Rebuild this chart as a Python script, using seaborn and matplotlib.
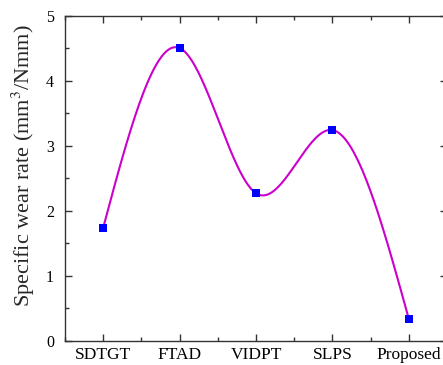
import numpy as np
import pandas as pd
import matplotlib
matplotlib.use("Agg")
import matplotlib.pyplot as plt
from matplotlib.ticker import MultipleLocator
import seaborn as sns

categories = ["SDTGT", "FTAD", "VIDPT", "SLPS", "Proposed"]
wear_rate = [1.74, 4.50, 2.27, 3.24, 0.34]

sns.set_style("ticks")
plt.rcParams['font.family'] = ['Liberation Serif', 'DejaVu Serif']
plt.rcParams['mathtext.fontset'] = 'stix'


def natural_spline(x, y, n=400):
    x = np.asarray(x, float); y = np.asarray(y, float)
    m = len(x); h = np.diff(x)
    A = np.zeros((m, m)); b = np.zeros(m)
    A[0, 0] = A[-1, -1] = 1
    for i in range(1, m - 1):
        A[i, i - 1] = h[i - 1]; A[i, i] = 2 * (h[i - 1] + h[i]); A[i, i + 1] = h[i]
        b[i] = 3 * ((y[i + 1] - y[i]) / h[i] - (y[i] - y[i - 1]) / h[i - 1])
    c = np.linalg.solve(A, b)
    xs = np.linspace(x[0], x[-1], n); ys = np.empty_like(xs)
    for k, xv in enumerate(xs):
        i = min(np.searchsorted(x, xv, side='right') - 1, m - 2)
        dx = xv - x[i]
        bi = (y[i + 1] - y[i]) / h[i] - h[i] * (2 * c[i] + c[i + 1]) / 3
        di = (c[i + 1] - c[i]) / (3 * h[i])
        ys[k] = y[i] + bi * dx + c[i] * dx ** 2 + di * dx ** 3
    return xs, ys

pos = np.arange(len(categories))
xs, ys = natural_spline(pos, wear_rate)
curve = pd.DataFrame({"x": xs, "y": ys})
pts = pd.DataFrame({"x": pos, "y": wear_rate})

fig = plt.figure(figsize=(4.43, 3.65), dpi=100)
ax = fig.add_axes([65 / 443, 1 - 341 / 365, (447 - 65) / 443, (341 - 15.5) / 365])
sns.lineplot(data=curve, x="x", y="y", ax=ax, color="#CC00CC", linewidth=1.5, sort=False)
sns.scatterplot(data=pts, x="x", y="y", ax=ax, marker="s", color="#0000FF", s=30,
                edgecolor="#0000FF", linewidth=0, zorder=5)

ax.set_xlim(-0.5, 4.5)
ax.set_ylim(0, 5)
ax.set_xticks(pos)
ax.set_xticklabels(categories)
ax.xaxis.set_minor_locator(MultipleLocator(0.5))
ax.yaxis.set_major_locator(MultipleLocator(1))
ax.yaxis.set_minor_locator(MultipleLocator(0.5))
ax.set_xlabel("")
ax.set_ylabel("Specific wear rate (mm$^3$/Nmm)", fontsize=16)
ax.yaxis.set_label_coords(-0.074, 0.54)
for s in ax.spines.values():
    s.set_visible(True); s.set_linewidth(1.0); s.set_color("#333333")
ax.tick_params(which="both", direction="in", top=True, right=True, colors="#333333",
               labelcolor="black")
ax.tick_params(which="major", length=5, width=1, labelsize=12.5)
ax.tick_params(which="minor", length=3, width=1)
ax.tick_params(axis="y", pad=8, labelsize=11.5)
ax.tick_params(axis="x", pad=4)
fig.savefig("out.png", dpi=100)
